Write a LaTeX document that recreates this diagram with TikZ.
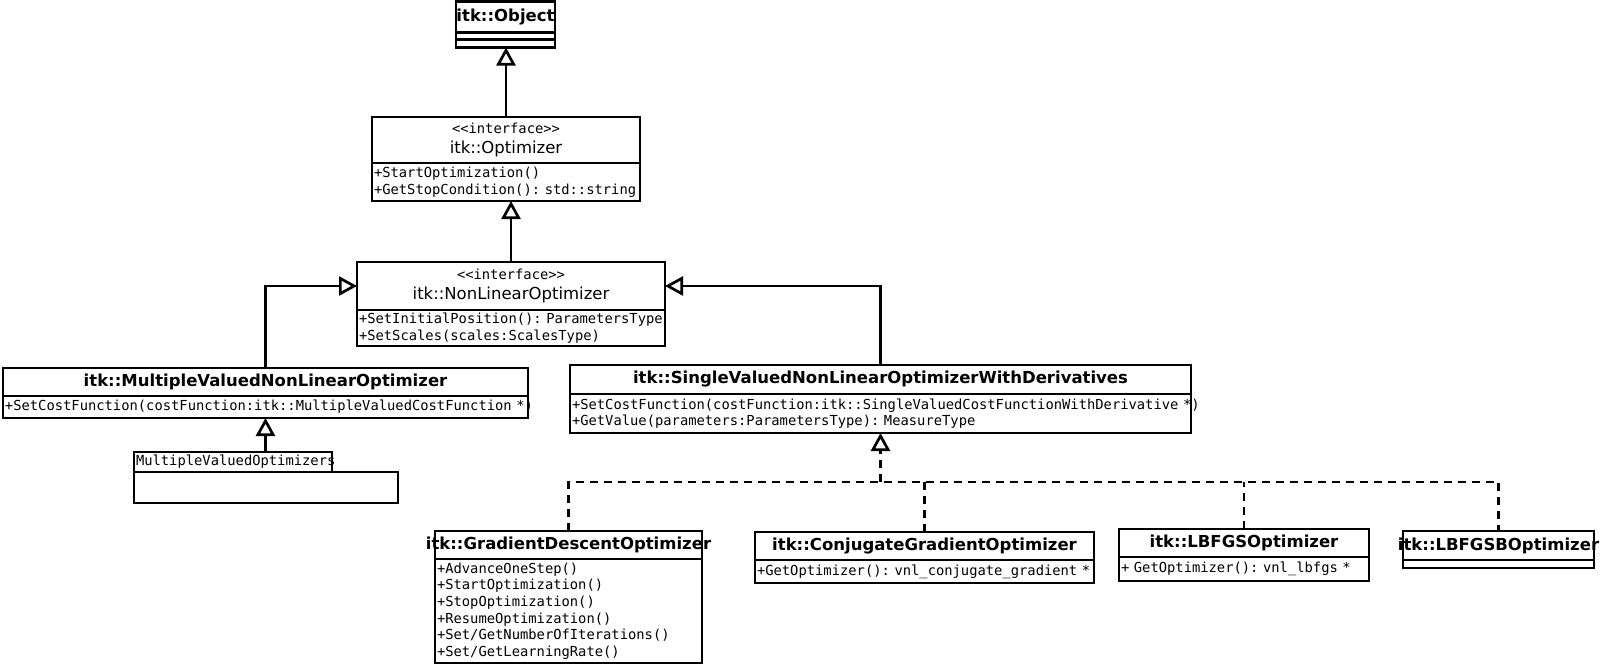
\documentclass[tikz,border=0pt]{standalone}
\usepackage{fontspec}
\setmainfont{DejaVu Sans}
\setmonofont{DejaVu Sans Mono}
\usetikzlibrary{arrows.meta}

\begin{document}
\begin{tikzpicture}[x=1pt,y=-1pt]
\tikzstyle{every node}+=[inner sep=0pt, outer sep=0pt]
\tikzstyle{head}=[draw, line width=2.7pt, anchor=north, font=\fontsize{16.5}{20}\selectfont\bfseries]
\tikzstyle{iface}=[draw, line width=2.7pt, anchor=north, align=center, font=\fontsize{16.5}{20}\selectfont]
\tikzstyle{body}=[draw, line width=2.7pt, anchor=north, align=left, inner xsep=2pt, font=\ttfamily\fontsize{13.8}{16.6}\selectfont]
\tikzstyle{inherit}=[line width=2.7pt, -{Triangle[open,length=18pt,width=19pt]}]
\tikzstyle{dep}=[line width=2.7pt, dash pattern=on 8pt off 6pt]
\tikzstyle{realize}=[dep, -{Triangle[open,length=18pt,width=19pt]}]
\fill[white] (0,0) rectangle (1600,665);
\useasboundingbox (0,0) rectangle (1600,665);
\node[head, minimum width=99pt, minimum height=31pt] (objh) at (505.5,1.5) {\makebox[0pt]{itk::Object}};
\node[body, minimum width=99pt, minimum height=7pt] (objb1) at (objh.south) {};
\node[body, minimum width=99pt, minimum height=8pt] (objb2) at (objb1.south) {};
\node[iface, minimum width=268pt, minimum height=46pt] (opth) at (506,117) {{\ttfamily\fontsize{13.8}{16}\selectfont <<interface>>}\\itk::Optimizer};
\node[body, text width=264pt, minimum height=38pt] (optb) at (opth.south) {+StartOptimization()\\+GetStopCondition():~std::string};
\node[iface, minimum width=308pt, minimum height=48pt] (nloh) at (511,262) {{\ttfamily\fontsize{13.8}{16}\selectfont <<interface>>}\\itk::NonLinearOptimizer};
\node[body, text width=304pt, minimum height=36pt] (nlob) at (nloh.south) {+SetInitialPosition():~ParametersType\\+SetScales(scales:ScalesType)};
\node[head, minimum width=525pt, minimum height=28pt] (mvnloh) at (265.5,368) {itk::MultipleValuedNonLinearOptimizer};
\node[body, text width=521pt, minimum height=22pt] (mvnlob) at (mvnloh.south) {+SetCostFunction(costFunction:itk::MultipleValuedCostFunction~*)};
\node[body, anchor=north west, text width=194pt, minimum height=20pt] (mvot) at (134,452) {MultipleValuedOptimizers};
\node[body, anchor=north west, minimum width=264pt, minimum height=31pt] (mvob) at (mvot.south west) {};
\node[head, minimum width=621pt, minimum height=29pt] (svnloh) at (880.5,365) {itk::SingleValuedNonLinearOptimizerWithDerivatives};
\node[body, text width=617pt, minimum height=39pt] (svnlob) at (svnloh.south) {+SetCostFunction(costFunction:itk::SingleValuedCostFunctionWithDerivative~*)\\+GetValue(parameters:ParametersType):~MeasureType};
\node[head, minimum width=267pt, minimum height=28pt] (gdoh) at (568.5,531) {\makebox[0pt]{itk::GradientDescentOptimizer}};
\node[body, text width=263pt, minimum height=104pt] (gdob) at (gdoh.south) {+AdvanceOneStep()\\+StartOptimization()\\+StopOptimization()\\+ResumeOptimization()\\+Set/GetNumberOfIterations()\\+Set/GetLearningRate()};
\node[head, minimum width=339pt, minimum height=28pt] (cgoh) at (924.5,532) {itk::ConjugateGradientOptimizer};
\node[body, text width=335pt, minimum height=23pt] (cgob) at (cgoh.south) {+GetOptimizer():~vnl\_conjugate\_gradient~*};
\node[head, minimum width=250pt, minimum height=28pt] (lbfgsh) at (1244,529) {itk::LBFGSOptimizer};
\node[body, text width=246pt, minimum height=24pt] (lbfgsb) at (lbfgsh.south) {+~GetOptimizer():~vnl\_lbfgs~*};
\node[head, minimum width=191pt, minimum height=29pt] (lbfgsbh) at (1498.5,531) {\makebox[0pt]{itk::LBFGSBOptimizer}};
\node[body, minimum width=191pt, minimum height=8pt] (lbfgsbb) at (lbfgsbh.south) {};
\draw[inherit] (opth.north) -- (opth.north |- objb2.south);
\draw[inherit] (nloh.north) -- (nloh.north |- optb.south);
\draw[inherit] (mvnloh.north) |- (nloh.west);
\draw[inherit] (svnloh.north) |- (nloh.east);
\draw[inherit] (mvnlob.south |- mvot.north) -- (mvnlob.south);
\coordinate (rail) at ([yshift=-49pt]svnlob.south);
\draw[realize] (rail) -- (svnlob.south);
\draw[dep] (gdoh.north) |- (rail) -| (lbfgsbh.north);
\draw[dep] (cgoh.north) -- (cgoh.north |- rail);
\draw[dep] (lbfgsh.north) -- (lbfgsh.north |- rail);
\end{tikzpicture}
\end{document}
